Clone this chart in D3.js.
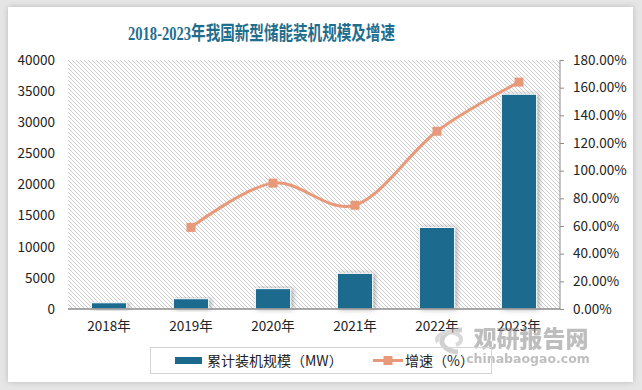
<!DOCTYPE html>
<html><head><meta charset="utf-8">
<script src="https://cdn.jsdelivr.net/npm/d3@7"></script>
<style>
html,body{margin:0;padding:0;background:#e6e6e6;}
svg{display:block;}
</style></head>
<body>
<script>
const categories = ["2018年","2019年","2020年","2021年","2022年","2023年"];
const capacity = [1000, 1650, 3270, 5730, 13100, 34500];
const growth = [null, 59, 91, 75, 128.5, 164];
const leftTicks = [0,5000,10000,15000,20000,25000,30000,35000,40000];
const rightTicks = [0,20,40,60,80,100,120,140,160,180];
const title = "2018-2023年我国新型储能装机规模及增速";
const seriesNames = ["累计装机规模（MW）","增速（%）"];

const W=642,H=390;
const svg=d3.select("body").append("svg").attr("width",W).attr("height",H);
const defs=svg.append("defs");
const pat=defs.append("pattern").attr("id","hatch").attr("patternUnits","userSpaceOnUse")
  .attr("width",4).attr("height",4);
pat.append("rect").attr("width",4).attr("height",4).attr("fill","#ffffff");
pat.append("path").attr("d","M-1,-1 L5,5 M-1,3 L1,5 M3,-1 L5,1").attr("stroke","#c8c8c8").attr("stroke-width",0.9);
const cardF=defs.append("filter").attr("id","cardsh").attr("x","-5%").attr("y","-5%").attr("width","110%").attr("height","110%");
cardF.append("feDropShadow").attr("dx",0).attr("dy",0).attr("stdDeviation",3).attr("flood-color","#999").attr("flood-opacity",0.6);
const barF=defs.append("filter").attr("id","barsh").attr("x","-30%").attr("y","-10%").attr("width","160%").attr("height","130%");
barF.append("feDropShadow").attr("dx",2).attr("dy",0).attr("stdDeviation",2.5).attr("flood-color","#666").attr("flood-opacity",0.55);

svg.append("rect").attr("x",8).attr("y",7).attr("width",625).attr("height",375).attr("fill","#fff").attr("filter","url(#cardsh)");

svg.append("text").attr("x",261.5).attr("y",40).attr("text-anchor","middle")
  .attr("font-family","'Liberation Serif','DejaVu Serif','Noto Sans CJK SC',serif")
  .attr("font-size",19.5).attr("font-weight","bold").attr("fill","#1f6e8e")
  .attr("textLength",267).attr("lengthAdjust","spacingAndGlyphs").text(title);

const m={l:68,r:560,t:60,b:309};
const x=d3.scaleBand().domain(categories).range([m.l,m.r]).paddingInner(0.57).paddingOuter(0.285);
const xc=d=>x(d)+x.bandwidth()/2;
const yL=d3.scaleLinear().domain([0,40000]).range([m.b,m.t]);
const yR=d3.scaleLinear().domain([0,180]).range([m.b,m.t]);

svg.append("rect").attr("x",m.l).attr("y",m.t).attr("width",m.r-m.l).attr("height",m.b-m.t).attr("fill","url(#hatch)");

const font="'Noto Sans CJK SC','Noto Sans',sans-serif";
const gL=svg.append("g").attr("transform",`translate(${m.l},0)`)
  .call(d3.axisLeft(yL).tickValues(leftTicks).tickSize(0).tickPadding(13).tickFormat(d3.format("d")));
gL.select(".domain").remove();
gL.selectAll("text").attr("font-family",font).attr("font-size",13.5).attr("fill","#222");
const gR=svg.append("g").attr("transform",`translate(${m.r},0)`)
  .call(d3.axisRight(yR).tickValues(rightTicks).tickSize(4).tickPadding(9).tickFormat(d=>d.toFixed(2)+"%"));
gR.select(".domain").attr("stroke","#8c8c8c").attr("d",`M0,${m.t}V${m.b}`);
gR.selectAll("line").attr("stroke","#8c8c8c");
gR.selectAll("text").attr("font-family",font).attr("font-size",13.5).attr("fill","#222");

svg.append("g").selectAll("rect").data(categories).join("rect")
  .attr("x",d=>x(d)).attr("width",x.bandwidth())
  .attr("y",(d,i)=>yL(capacity[i])).attr("height",(d,i)=>m.b-yL(capacity[i]))
  .attr("fill","#1b6a8e").attr("stroke","#fff").attr("stroke-width",1).attr("filter","url(#barsh)");

const gX=svg.append("g").attr("transform",`translate(0,${m.b})`)
  .call(d3.axisBottom(x).tickSize(0).tickPadding(12));
gX.select(".domain").attr("stroke","#8c8c8c").attr("stroke-width",1.5).attr("d",`M${m.l},0H${m.r}`);
gX.selectAll("text").attr("font-family",font).attr("font-size",13.5).attr("fill","#222");

const pts=categories.map((c,i)=>({c,v:growth[i]})).filter(d=>d.v!=null);
const lineCol="#e8997a";
svg.append("path").datum(pts).attr("fill","none").attr("stroke",lineCol).attr("stroke-width",3)
  .attr("d",d3.line().x(d=>xc(d.c)).y(d=>yR(d.v)).curve(d3.curveCardinal));
svg.append("g").selectAll("rect").data(pts).join("rect")
  .attr("x",d=>xc(d.c)-4.5).attr("y",d=>yR(d.v)-4.5).attr("width",9).attr("height",9).attr("fill",lineCol);

const wm=svg.append("g").attr("opacity",0.55);
wm.append("path").attr("d","M462,330 A18,11 0 1 0 458,352").attr("fill","none").attr("stroke","#aaa").attr("stroke-width",5);
wm.append("path").attr("d","M438,342 A12,7 0 1 1 456,345").attr("fill","none").attr("stroke","#bbb").attr("stroke-width",4);
wm.append("text").attr("x",531).attr("y",347).attr("text-anchor","middle").attr("font-family",font)
  .attr("font-weight","900").attr("font-size",23).attr("fill","#8a8a8a").text("观研报告网");
wm.append("text").attr("x",528).attr("y",363).attr("text-anchor","middle").attr("font-family","'DejaVu Sans',sans-serif")
  .attr("font-weight","bold").attr("font-size",12.5).attr("fill","#8a8a8a").text("chinabaogao.com");

svg.append("rect").attr("x",150.5).attr("y",347.5).attr("width",341).attr("height",26).attr("fill","none").attr("stroke","#d4d4d4");
svg.append("rect").attr("x",175).attr("y",357).attr("width",27).attr("height",7).attr("fill","#1b6a8e");
svg.append("text").attr("x",207).attr("y",365.5).attr("font-family",font).attr("font-size",14).attr("fill","#222").text(seriesNames[0]);
svg.append("line").attr("x1",373).attr("x2",403).attr("y1",360.5).attr("y2",360.5).attr("stroke",lineCol).attr("stroke-width",3);
svg.append("rect").attr("x",383.5).attr("y",356).attr("width",9).attr("height",9).attr("fill",lineCol);
svg.append("text").attr("x",405).attr("y",365.5).attr("font-family",font).attr("font-size",14).attr("fill","#222").text(seriesNames[1]);
</script>
</body></html>
